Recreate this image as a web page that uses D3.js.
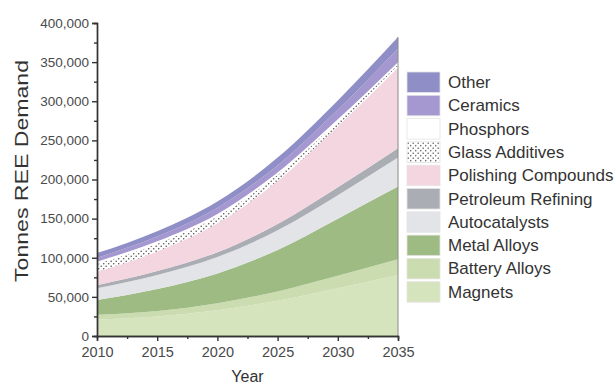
<!DOCTYPE html>
<html>
<head>
<meta charset="utf-8">
<script src="https://cdn.jsdelivr.net/npm/d3@7"></script>
<style>
  html, body { margin: 0; padding: 0; background: #fff; }
  svg { display: block; font-family: "Liberation Sans", Arial, sans-serif; }
</style>
</head>
<body>
<svg id="chart" width="615" height="386"></svg>
<script>
// Projected rare earth element demand by end use (tonnes)
const years = [2010, 2015, 2020, 2025, 2030, 2035];

const magnets    = [21000, 25000, 33000, 45000, 61000, 78000];
const battery    = [6000, 7000, 9000, 12000, 16000, 20000];
const metal      = [19000, 28000, 38000, 53000, 73000, 93000];
const autocat    = [15000, 18000, 21000, 25000, 30000, 37000];
const petroleum  = [4000, 5000, 6000, 8000, 10000, 12000];
const polishing  = [17000, 25000, 37000, 55000, 78000, 103000];
const glass      = [10000, 10000, 9000, 8000, 6000, 4000];
const phosphors  = [3000, 3000, 3000, 3000, 3000, 3000];
const ceramics   = [5000, 6000, 8000, 9000, 12000, 17000];
const other      = [6000, 7000, 8000, 10000, 12000, 15000];

// Stack order, bottom to top
const seriesNames = ["Magnets", "Battery Alloys", "Metal Alloys", "Autocatalysts",
  "Petroleum Refining", "Polishing Compounds", "Glass Additives", "Phosphors",
  "Ceramics", "Other"];
const seriesValues = [magnets, battery, metal, autocat, petroleum, polishing,
  glass, phosphors, ceramics, other];
const seriesFills = ["#d5e4bd", "#cbdcb0", "#9dbb82", "#e2e4e8", "#aaaeb4",
  "#f3d6e0", "url(#dots)", "#ffffff", "#a597cf", "#8f8ec6"];

const xTicks = [2010, 2015, 2020, 2025, 2030, 2035];
const yTicks = [0, 50000, 100000, 150000, 200000, 250000, 300000, 350000, 400000];

const table = years.map((yr, i) => {
  const row = { year: yr };
  seriesNames.forEach((n, k) => { row[n] = seriesValues[k][i]; });
  return row;
});

const svg = d3.select("#chart");

// dotted fill for glass additives
const defs = svg.append("defs");
const pat = defs.append("pattern").attr("id", "dots")
  .attr("patternUnits", "userSpaceOnUse").attr("width", 5).attr("height", 5);
pat.append("rect").attr("width", 5).attr("height", 5).attr("fill", "#fff");
pat.append("circle").attr("cx", 1.2).attr("cy", 1.2).attr("r", 0.8).attr("fill", "#555");
pat.append("circle").attr("cx", 3.7).attr("cy", 3.7).attr("r", 0.8).attr("fill", "#555");

const x = d3.scaleLinear().domain([2010, 2035]).range([97, 398]);
const y = d3.scaleLinear().domain([0, 400000]).range([336, 23]);

const stacked = d3.stack().keys(seriesNames)(table);

const area = d3.area()
  .x(d => x(d.data.year))
  .y0(d => y(d[0]))
  .y1(d => y(d[1]))
  .curve(d3.curveMonotoneX);

svg.append("g").selectAll("path")
  .data(stacked)
  .join("path")
  .attr("d", area)
  .attr("fill", (d, i) => seriesFills[i]);

// right edge of the stacked area
const last = table[table.length - 1];
const lastTotal = d3.sum(seriesNames, n => last[n]);
svg.append("line")
  .attr("x1", x(2035)).attr("x2", x(2035))
  .attr("y1", y(lastTotal)).attr("y2", y(0))
  .attr("stroke", "#8a8a8a").attr("stroke-width", 1);

// axes
const axisColor = "#333";
const yAxis = svg.append("g").attr("transform", `translate(${x(2010)},0)`)
  .call(d3.axisLeft(y).tickValues(yTicks).tickFormat(d3.format(",")).tickSize(5).tickPadding(3));
const yMinor = svg.append("g").attr("transform", `translate(${x(2010)},0)`)
  .call(d3.axisLeft(y).tickValues(d3.range(25000, 400000, 50000)).tickFormat("").tickSize(3));
const xAxis = svg.append("g").attr("transform", `translate(0,${y(0)})`)
  .call(d3.axisBottom(x).tickValues(xTicks).tickFormat(d3.format("d")).tickSize(5).tickPadding(6));
const xMinor = svg.append("g").attr("transform", `translate(0,${y(0)})`)
  .call(d3.axisBottom(x).tickValues(d3.range(2012.5, 2035, 5)).tickFormat("").tickSize(3));

[yAxis, yMinor, xAxis, xMinor].forEach(g => {
  g.select(".domain").attr("stroke", axisColor).attr("stroke-width", 1.4);
  g.selectAll(".tick line").attr("stroke", axisColor).attr("stroke-width", 1.4);
  g.selectAll("text").attr("fill", "#4a4a4a").attr("font-family", "Liberation Sans, Arial, sans-serif");
});
yAxis.selectAll("text").attr("font-size", 13.5);
xAxis.selectAll("text").attr("font-size", 14.5);

// axis titles
svg.append("text")
  .attr("transform", `translate(28,171) rotate(-90)`)
  .attr("text-anchor", "middle")
  .attr("font-size", 17.5)
  .attr("textLength", 222)
  .attr("lengthAdjust", "spacingAndGlyphs")
  .attr("fill", "#333")
  .text("Tonnes REE Demand");

svg.append("text")
  .attr("x", (x(2010) + x(2035)) / 2)
  .attr("y", 382)
  .attr("text-anchor", "middle")
  .attr("font-size", 16)
  .attr("fill", "#333")
  .text("Year");

// legend, top to bottom
const legendOrder = seriesNames.map((n, i) => ({ name: n, fill: seriesFills[i] })).reverse();
const legend = svg.append("g").attr("transform", "translate(407,72)");
const items = legend.selectAll("g").data(legendOrder).join("g")
  .attr("transform", (d, i) => `translate(0,${i * 23.3})`);
items.append("rect")
  .attr("width", 33).attr("height", 20.5)
  .attr("fill", d => d.fill)
  .attr("stroke", "#e4e4e4").attr("stroke-width", 0.8);
items.append("text")
  .attr("x", 41).attr("y", 16)
  .attr("font-size", 17)
  .attr("fill", "#333")
  .text(d => d.name);
</script>
</body>
</html>
